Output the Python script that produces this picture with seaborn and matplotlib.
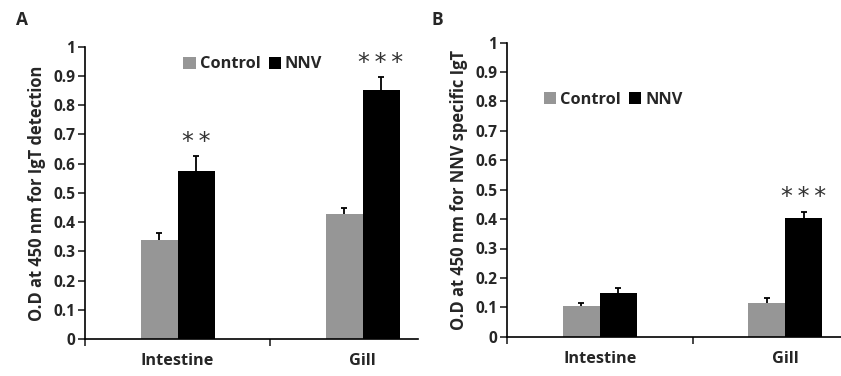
import matplotlib
matplotlib.use("Agg")
import matplotlib.pyplot as plt
import seaborn as sns
import pandas as pd
import numpy as np
from matplotlib.patches import Patch

tissues = ["Intestine", "Gill"]
groups = ["Control", "NNV"]
a_control = [0.340, 0.428]
a_nnv = [0.575, 0.852]
a_control_err = [0.024, 0.019]
a_nnv_err = [0.050, 0.043]
b_control = [0.105, 0.115]
b_nnv = [0.150, 0.405]
b_control_err = [0.010, 0.015]
b_nnv_err = [0.015, 0.020]
a_stars = ["*\u2009*", "*\u2009*\u2009*"]
b_stars = ["", "*\u2009*\u2009*"]
yticks = [0, 0.1, 0.2, 0.3, 0.4, 0.5, 0.6, 0.7, 0.8, 0.9, 1]
ytick_labels = ["0", "0.1", "0.2", "0.3", "0.4", "0.5", "0.6", "0.7", "0.8", "0.9", "1"]

sns.set_style("white")
plt.rcParams['font.family'] = ['Open Sans', 'DejaVu Sans']

palette = {"Control": "#969696", "NNV": "#000000"}

fig = plt.figure(figsize=(8.41, 3.76), dpi=100)
axA = fig.add_axes([85/841, 1-339/376, 333/841, (339-46.7)/376])
axB = fig.add_axes([507/841, 1-336.7/376, 334/841, (336.7-42.7)/376])


def panel(ax, ctrl, nnv, ctrl_err, nnv_err, stars, ylabel, legend_anchor):
    df = pd.DataFrame({
        "tissue": tissues * 2,
        "group": ["Control"] * 2 + ["NNV"] * 2,
        "value": ctrl + nnv,
        "err": ctrl_err + nnv_err,
    })
    sns.barplot(data=df, x="tissue", y="value", hue="group", order=tissues,
                hue_order=groups, palette=palette, width=0.4, errorbar=None,
                saturation=1, ax=ax, legend=False, linewidth=0)
    bars = [p for p in ax.patches]
    for p, (_, row) in zip(bars, df.iterrows()):
        cx = p.get_x() + p.get_width() / 2
        eb = ax.errorbar(cx, row["value"], yerr=[[0], [row["err"]]], fmt="none",
                         ecolor="black", elinewidth=1.3, capsize=2.5, capthick=1.3)
        caps = eb[1]
        if len(caps) == 2:
            caps[0].set_visible(False)
    for i, s in enumerate(stars):
        if s:
            p = bars[2 + i]
            cx = p.get_x() + p.get_width() / 2
            top = nnv[i] + nnv_err[i]
            ax.text(cx, top + 0.05, s, ha="center", va="center",
                    fontsize=17, family="DejaVu Sans", color="#333333")
    ax.set_yticks(yticks)
    ax.set_yticklabels(ytick_labels, fontsize=11.2, fontweight="bold")
    ax.set_xticks([-0.5, 0.5, 1.5])
    ax.set_xticklabels([])
    ax.set_xticks([0, 1], minor=True)
    ax.set_xticklabels(tissues, minor=True, fontsize=11.7, fontweight="bold")
    ax.set_ylim(0, 1)
    ax.set_xlim(-0.5, 1.3)
    ax.tick_params(axis="x", which="minor", length=0, pad=10)
    ax.tick_params(axis="x", which="major", length=5, width=1.2, direction="out", bottom=True)
    ax.tick_params(axis="y", length=5, width=1.2, direction="out", left=True, pad=2)
    ax.set_xlabel("")
    ax.set_ylabel(ylabel, fontsize=11.9, fontweight="bold", labelpad=5)
    for side in ["top", "right"]:
        ax.spines[side].set_visible(False)
    for side in ["left", "bottom"]:
        ax.spines[side].set_color("black")
        ax.spines[side].set_linewidth(1.2)
    handles = [Patch(facecolor=palette[g], edgecolor="none") for g in groups]
    ax.legend(handles, groups, loc="center left", bbox_to_anchor=legend_anchor,
              ncol=2, frameon=False, handlelength=0.75, handleheight=0.75,
              handletextpad=0.25, columnspacing=0.5, borderaxespad=0, borderpad=0,
              prop={"weight": "bold", "size": 11.8})


panel(axA, a_control, a_nnv, a_control_err, a_nnv_err, a_stars,
      "O.D at 450 nm for IgT detection", (0.295, 0.94))
panel(axB, b_control, b_nnv, b_control_err, b_nnv_err, b_stars,
      "O.D at 450 nm for NNV specific IgT", (0.11, 0.805))

fig.text(22/841, 1-20/376, "A", fontsize=12.5, fontweight="bold", ha="center", va="center")
fig.text(437/841, 1-20/376, "B", fontsize=12.5, fontweight="bold", ha="center", va="center")

fig.savefig("out.png", dpi=100)
